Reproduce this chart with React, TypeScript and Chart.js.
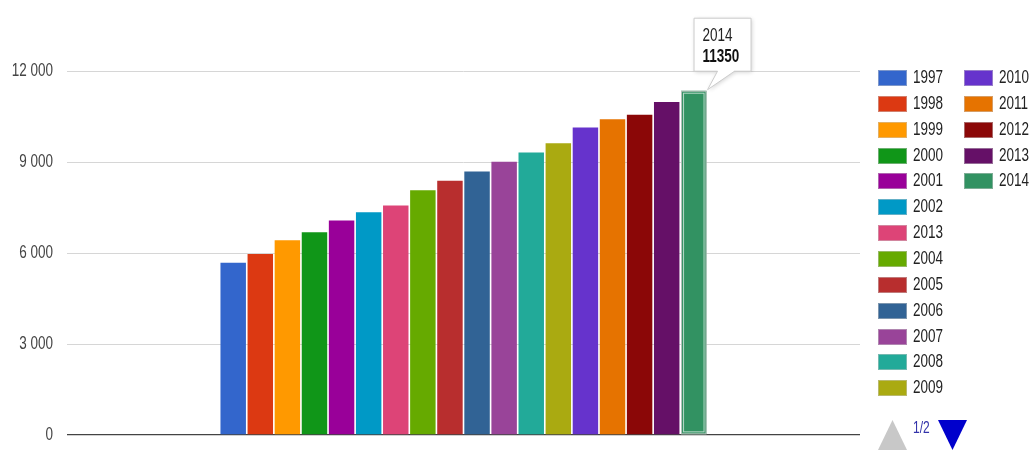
import React, { useEffect, useRef } from "react";
import { Chart, registerables } from "chart.js";

Chart.register(...registerables);

const categories: string[] = [""];
const seriesLabels: string[] = [
  "1997", "1998", "1999", "2000", "2001", "2002", "2013", "2004", "2005",
  "2006", "2007", "2008", "2009", "2010", "2011", "2012", "2013", "2014",
];
const seriesValues: number[] = [
  5680, 5970, 6420, 6680, 7070, 7340, 7570, 8070, 8380,
  8690, 9010, 9310, 9620, 10140, 10410, 10560, 10980, 11350,
];
const seriesColors: string[] = [
  "#3366cc", "#dc3912", "#ff9900", "#109618", "#990099", "#0099c6", "#dd4477", "#66aa00", "#b82e2e",
  "#316395", "#994499", "#22aa99", "#aaaa11", "#6633cc", "#e67300", "#8b0707", "#651067", "#329262",
];
const yTicks: number[] = [0, 3000, 6000, 9000, 12000];
const selectedIndex = 17;
const pageLabel = "1/2";

const FONT = "'Liberation Sans', Arial, sans-serif";
const STRETCH = 1.3;

const fmt = (n: number) => String(n).replace(/\B(?=(\d{3})+(?!\d))/g, " ");

function drawStretchedText(ctx: CanvasRenderingContext2D, text: string, x: number, y: number, font: string, color: string, align: CanvasTextAlign) {
  ctx.save();
  ctx.translate(x, y);
  ctx.scale(1, STRETCH);
  ctx.font = font;
  ctx.fillStyle = color;
  ctx.textAlign = align;
  ctx.textBaseline = "middle";
  ctx.fillText(text, 0, 0);
  ctx.restore();
}

const overlayPlugin = {
  id: "overlay",
  afterDraw(chart: any) {
    const ctx: CanvasRenderingContext2D = chart.ctx;
    const yScale = chart.scales.y;
    // y tick labels
    yScale.ticks.forEach((t: any) => {
      const py = yScale.getPixelForValue(t.value);
      drawStretchedText(ctx, fmt(t.value), chart.chartArea.left - 14, py, `13.5px ${FONT}`, "#444", "right");
    });
    // selected bar highlight
    const el = chart.getDatasetMeta(selectedIndex).data[0];
    if (!el) return;
    const left = el.x - el.width / 2;
    const right = el.x + el.width / 2;
    const top = el.y;
    const bottom = el.base;
    ctx.save();
    ctx.strokeStyle = "rgba(255,255,255,0.65)";
    ctx.lineWidth = 1;
    ctx.strokeRect(left + 2.5, top + 2.5, el.width - 5, bottom - top - 5);
    ctx.strokeStyle = "rgba(200,200,200,0.9)";
    ctx.strokeRect(left + 0.5, top + 0.5, el.width - 1, bottom - top - 1);
    ctx.restore();

    // tooltip
    const bw = 57, bh = 53;
    const bx = right - 13;
    const by = top - 20 - bh;
    ctx.save();
    ctx.shadowColor = "rgba(0,0,0,0.18)";
    ctx.shadowBlur = 4;
    ctx.shadowOffsetX = 1;
    ctx.shadowOffsetY = 1;
    ctx.fillStyle = "#ffffff";
    ctx.strokeStyle = "#cccccc";
    ctx.lineWidth = 1;
    ctx.beginPath();
    ctx.moveTo(bx + 0.5, by + 0.5);
    ctx.lineTo(bx + bw + 0.5, by + 0.5);
    ctx.lineTo(bx + bw + 0.5, by + bh + 0.5);
    ctx.lineTo(bx + 41, by + bh + 0.5);
    ctx.lineTo(right + 1, top - 1);
    ctx.lineTo(bx + 24, by + bh + 0.5);
    ctx.lineTo(bx + 0.5, by + bh + 0.5);
    ctx.closePath();
    ctx.fill();
    ctx.shadowColor = "transparent";
    ctx.stroke();
    ctx.restore();
    drawStretchedText(ctx, seriesLabels[selectedIndex], bx + 9, by + 18, `13.5px ${FONT}`, "#222", "left");
    drawStretchedText(ctx, String(seriesValues[selectedIndex]), bx + 9, by + 39, `bold 13.5px ${FONT}`, "#111", "left");
  },
};

export default function App() {
  const canvasRef = useRef<HTMLCanvasElement | null>(null);

  useEffect(() => {
    document.body.style.margin = "0";
    const canvas = canvasRef.current;
    if (!canvas) return;
    const chart = new Chart(canvas, {
      type: "bar",
      data: {
        labels: categories,
        datasets: seriesLabels.map((label, i) => ({
          label,
          data: [seriesValues[i]],
          backgroundColor: seriesColors[i],
          borderWidth: 0,
          categoryPercentage: 0.615,
          barPercentage: 0.94,
        })),
      },
      options: {
        responsive: false,
        animation: false,
        devicePixelRatio: 1,
        layout: { padding: { left: 0, right: 175, top: 71, bottom: 15 } },
        plugins: { legend: { display: false }, tooltip: { enabled: false }, title: { display: false } },
        scales: {
          x: { display: false },
          y: {
            min: 0,
            max: 12000,
            afterBuildTicks: (s: any) => { s.ticks = yTicks.map((v) => ({ value: v })); },
            afterFit: (s: any) => { s.width = 67; },
            ticks: { display: false },
            border: { display: false },
            grid: {
              drawTicks: false,
              color: (c: any) => (c.tick && c.tick.value === 0 ? "#444" : "#d6d6d6"),
              lineWidth: (c: any) => (c.tick && c.tick.value === 0 ? 1.3 : 1),
            },
          },
        },
      },
      plugins: [overlayPlugin],
    });
    return () => chart.destroy();
  }, []);

  const col1Left = 878;
  const col2Left = 964;
  const rowTop = 70;
  const rowStep = 25.85;
  const perCol = 13;

  return (
    <div style={{ position: "absolute", left: 0, top: 0, width: 1035, height: 450, background: "#fff", overflow: "hidden" }}>
      <canvas ref={canvasRef} width={1035} height={450} style={{ position: "absolute", left: 0, top: 0 }} />
      {seriesLabels.map((label, i) => {
        const col = i < perCol ? 0 : 1;
        const row = i < perCol ? i : i - perCol;
        const left = col === 0 ? col1Left : col2Left;
        const top = rowTop + row * rowStep;
        return (
          <div key={i} style={{ position: "absolute", left, top, height: 16, display: "flex", alignItems: "center" }}>
            <div style={{ width: 29, height: 16, background: seriesColors[i], boxSizing: "border-box", border: "1px solid rgba(200,200,200,0.5)" }} />
            <span style={{ marginLeft: 6, font: `13.5px ${FONT}`, color: "#222", transform: `scaleY(${STRETCH})`, display: "inline-block", lineHeight: "16px" }}>{label}</span>
          </div>
        );
      })}
      <svg style={{ position: "absolute", left: 876, top: 418 }} width={100} height={32}>
        <polygon points="2,32 16.5,2 31,32" fill="#c8c8c8" />
        <polygon points="62,2 91,2 76.5,32" fill="#0000cc" />
      </svg>
      <span style={{ position: "absolute", left: 913, top: 421, font: `12px ${FONT}`, color: "#3333aa", transform: `scaleY(${STRETCH})`, display: "inline-block", lineHeight: "14px" }}>{pageLabel}</span>
    </div>
  );
}
